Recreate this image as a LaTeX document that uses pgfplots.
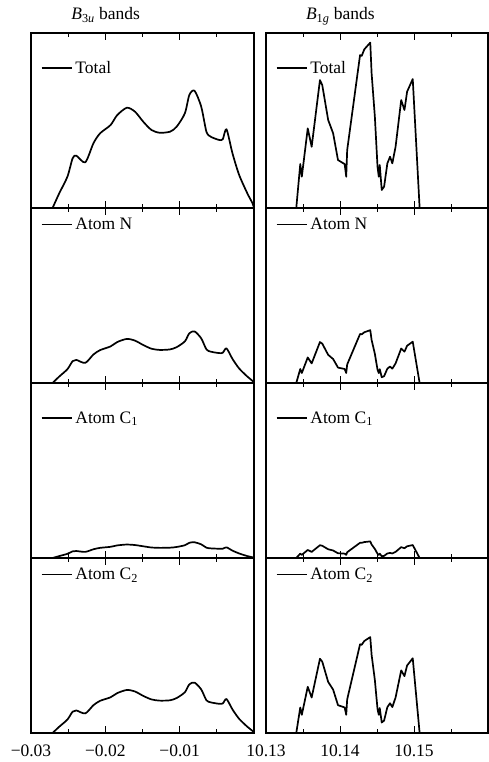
\documentclass[border=0pt]{standalone}
\usepackage{fontspec}
\setmainfont{Liberation Serif}
\usepackage{pgfplots}
\usepackage{pgfplotstable}
\pgfplotsset{compat=1.18}

% Projected densities of states, B3u bands (columns: energy, total, N, C1, C2)
\pgfplotstableread{
x        tot   n     ca    cb
-0.0271  0     0     0     0
-0.0262  0.84  0.37  0.11  0.36
-0.0251  1.79  0.79  0.24  0.77
-0.0244  2.84  1.25  0.38  1.22
-0.0239  2.99  1.32  0.40  1.29
-0.0227  2.61  1.15  0.35  1.12
-0.0216  3.70  1.63  0.50  1.59
-0.0207  4.27  1.88  0.58  1.84
-0.0193  4.74  2.09  0.64  2.04
-0.0184  5.31  2.34  0.72  2.28
-0.0171  5.73  2.52  0.77  2.46
-0.0160  5.50  2.42  0.74  2.37
-0.0149  4.93  2.17  0.67  2.12
-0.0138  4.46  1.96  0.60  1.92
-0.0127  4.30  1.89  0.58  1.85
-0.0113  4.36  1.92  0.59  1.87
-0.0104  4.65  2.05  0.63  2.00
-0.0093  5.41  2.38  0.73  2.33
-0.0087  6.46  2.84  0.87  2.78
-0.0080  6.70  2.95  0.90  2.88
-0.0071  5.79  2.55  0.78  2.49
-0.0064  4.36  1.92  0.59  1.87
-0.0058  4.07  1.79  0.55  1.75
-0.0047  3.89  1.71  0.53  1.67
-0.0042  3.93  1.73  0.53  1.69
-0.0037  4.50  1.98  0.61  1.94
-0.0029  3.13  1.38  0.42  1.35
-0.0020  1.89  0.83  0.26  0.81
-0.0009  0.84  0.37  0.11  0.36
-0.0002  0.27  0.12  0.04  0.12
 0.0000  0     0     0     0
}\leftdos

% Projected densities of states, B1g bands
\pgfplotstableread{
x         tot   n     ca    cb
10.13409  0     0     0     0
10.13463  2.51  0.80  0.25  1.46
10.13484  1.79  0.57  0.18  1.04
10.13564  4.55  1.46  0.46  2.64
10.13617  3.50  1.12  0.35  2.03
10.13729  7.31  2.34  0.73  4.24
10.13760  7.03  2.25  0.70  4.08
10.13840  5.03  1.61  0.50  2.92
10.13907  4.27  1.37  0.43  2.48
10.13973  2.74  0.88  0.27  1.59
10.14063  2.51  0.80  0.25  1.46
10.14084  1.79  0.57  0.18  1.04
10.14097  3.31  1.06  0.33  1.92
10.14271  8.74  2.80  0.87  5.07
10.14293  8.69  2.78  0.87  5.04
10.14329  9.07  2.90  0.91  5.26
10.14409  9.45  3.02  0.95  5.48
10.14427  7.70  2.46  0.77  4.47
10.14471  5.22  1.67  0.52  3.03
10.14507  2.36  0.76  0.24  1.37
10.14524  1.79  0.57  0.18  1.04
10.14537  2.46  0.79  0.25  1.43
10.14564  1.03  0.33  0.10  0.60
10.14596  1.22  0.39  0.12  0.71
10.14640  2.55  0.82  0.26  1.48
10.14676  2.93  0.94  0.29  1.70
10.14707  2.55  0.82  0.26  1.48
10.14751  3.50  1.12  0.35  2.03
10.14827  6.17  1.97  0.62  3.58
10.14871  5.60  1.79  0.56  3.25
10.14907  6.65  2.13  0.67  3.86
10.14983  7.37  2.36  0.74  4.27
10.15076  0     0     0     0
}\rightdos

\newcommand{\labfont}{\fontsize{17.5}{21}\selectfont}

\pgfplotsset{
  panel/.style={
    scale only axis, width=223pt, height=175pt,
    anchor=north west,
    ymin=0, ymax=10, ytick=\empty,
    scaled x ticks=false,
    axis line style={line width=1.3pt},
    tick align=inside, minor x tick num=1,
    major tick length=7pt, minor tick length=4pt,
    every tick/.style={black, line width=1pt},
    xticklabels={},
    font=\labfont,
    xticklabel style={font=\labfont, yshift=-8pt},
    legend style={draw=none, fill=none, anchor=west, inner sep=0pt,
      font=\labfont, nodes={inner xsep=3pt}},
    legend image code/.code={\draw[line width=1.4pt] (0pt,0pt) -- (30pt,0pt);},
    title style={at={(0.335,1)}, anchor=base, yshift=7pt, font=\labfont},
  },
  leftcol/.style={panel, xmin=-0.03, xmax=0, xtick={-0.03,-0.02,-0.01,0}},
  rightcol/.style={panel, xmin=10.13, xmax=10.16, xtick={10.13,10.14,10.15,10.16}, width=222pt},
  upper/.style={legend style={at={(axis description cs:0.044,0.8)}}},
  lower/.style={legend style={at={(axis description cs:0.044,0.906)}}},
  dos/.style={black, line width=1.7pt, no marks, line join=round},
}

\begin{document}
\begin{tikzpicture}
\path[use as bounding box] (0,0) rectangle (489pt,-762pt);

% ---- B3u column ----
\begin{axis}[leftcol, upper, at={(31pt,-33pt)},
  title={{\itshape B}\textsubscript{3{\itshape u}} bands}]
\addplot[dos, smooth, tension=0.45] table[x=x, y=tot] {\leftdos};
\addlegendentry{Total}
\end{axis}

\begin{axis}[leftcol, lower, at={(31pt,-208pt)}]
\addplot[dos, smooth, tension=0.45] table[x=x, y=n] {\leftdos};
\addlegendentry{Atom N}
\end{axis}

\begin{axis}[leftcol, upper, at={(31pt,-383pt)}]
\addplot[dos, smooth, tension=0.45] table[x=x, y=ca] {\leftdos};
\addlegendentry{Atom C\textsubscript{1}}
\end{axis}

\begin{axis}[leftcol, lower, at={(31pt,-558pt)},
  xticklabels={−0.03,−0.02,−0.01,{}}]
\addplot[dos, smooth, tension=0.45] table[x=x, y=cb] {\leftdos};
\addlegendentry{Atom C\textsubscript{2}}
\end{axis}

% ---- B1g column ----
\begin{axis}[rightcol, upper, at={(266pt,-33pt)},
  title={{\itshape B}\textsubscript{1{\itshape g}} bands}]
\addplot[dos] table[x=x, y=tot] {\rightdos};
\addlegendentry{Total}
\end{axis}

\begin{axis}[rightcol, lower, at={(266pt,-208pt)}]
\addplot[dos] table[x=x, y=n] {\rightdos};
\addlegendentry{Atom N}
\end{axis}

\begin{axis}[rightcol, upper, at={(266pt,-383pt)}]
\addplot[dos] table[x=x, y=ca] {\rightdos};
\addlegendentry{Atom C\textsubscript{1}}
\end{axis}

\begin{axis}[rightcol, lower, at={(266pt,-558pt)},
  xticklabels={10.13,10.14,10.15,{}}]
\addplot[dos] table[x=x, y=cb] {\rightdos};
\addlegendentry{Atom C\textsubscript{2}}
\end{axis}
\end{tikzpicture}
\end{document}
